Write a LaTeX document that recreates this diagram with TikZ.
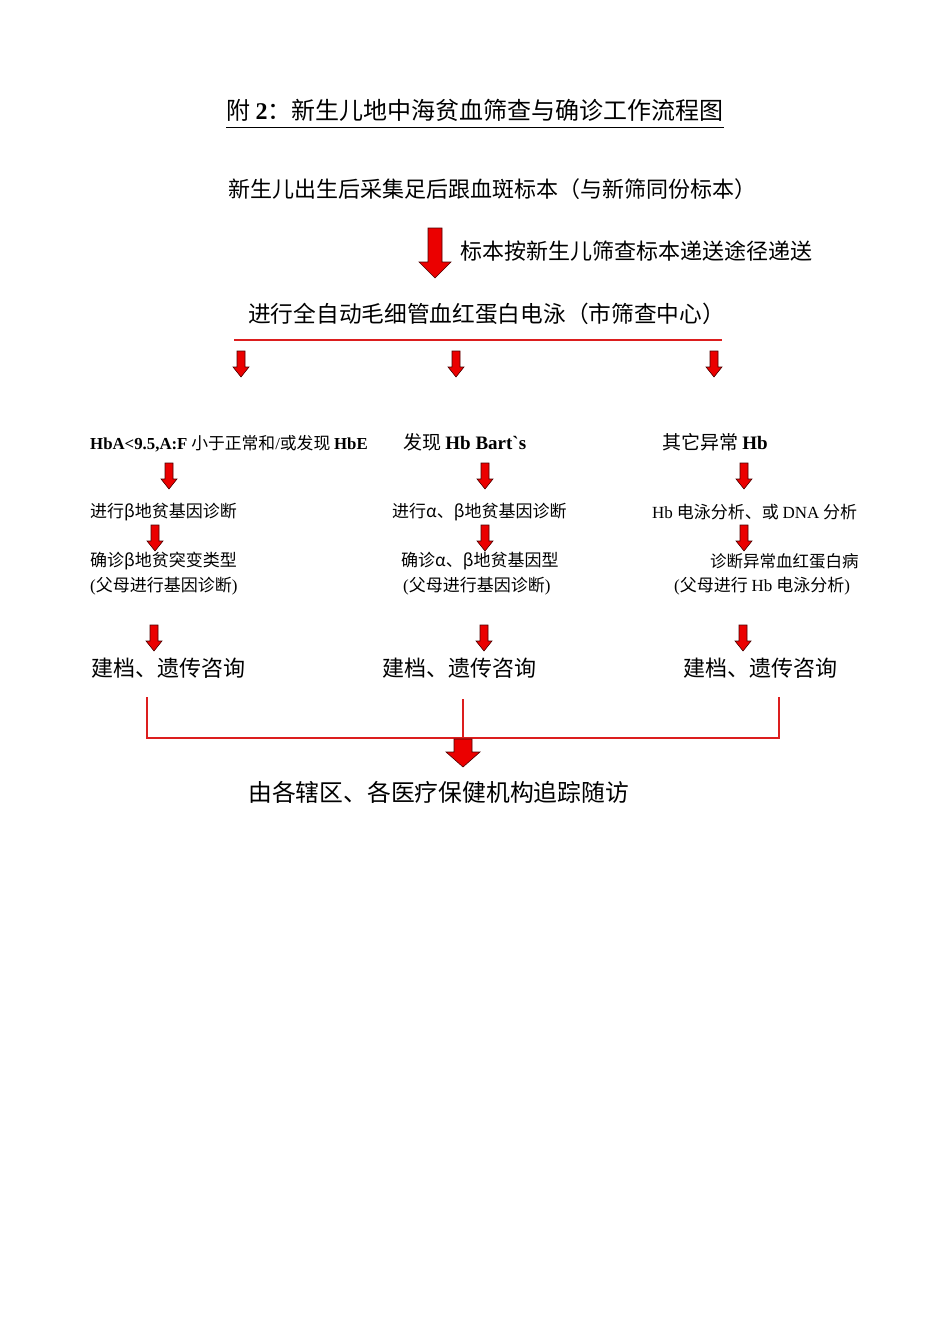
\documentclass[tikz,border=0pt]{standalone}
\usepackage{fontspec}
\setmainfont{Liberation Serif}
\newfontfamily\cjk{Noto Sans CJK SC}
\newcommand\fs[1]{\fontsize{#1}{#1}\selectfont}
\tikzset{
  big/.style={font=\cjk\fs{22}, inner sep=0pt, anchor=west},
  mid/.style={font=\cjk\fs{19}, inner sep=0pt, anchor=west},
  sml/.style={font=\cjk\fs{17}, inner sep=0pt, anchor=west},
  redline/.style={draw={rgb,255:red,220;green,30;blue,30}, line width=2pt},
}
\definecolor{arrred}{RGB}{235,0,0}
% block arrow: x, ytop, ybottom, shaft half width, head half width, head start
\newcommand\blockarr[6]{%
  \filldraw[fill=arrred, draw=black!70!red, line width=0.6pt]
   (#1-#4,#2) -- (#1+#4,#2) -- (#1+#4,#6) -- (#1+#5,#6) -- (#1,#3)
   -- (#1-#5,#6) -- (#1-#4,#6) -- cycle;}
\begin{document}
\begin{tikzpicture}[x=1pt,y=-1pt]
\useasboundingbox (0,0) rectangle (950,1344);
\node[big, font=\cjk\fs{24}] (title) at (226,110) {附 {\rmfamily\bfseries 2}：新生儿地中海贫血筛查与确诊工作流程图};
\draw[line width=0.8pt] (226,127) -- (724,127);
\node[big] (birth) at (228,189) {新生儿出生后采集足后跟血斑标本（与新筛同份标本）};
\blockarr{435}{228}{278}{7}{16}{262}
\node[big] (send) at (460,251) {标本按新生儿筛查标本递送途径递送};
\node[big, font=\cjk\fs{22.7}] (hpe) at (248,314) {进行全自动毛细管血红蛋白电泳（市筛查中心）};
\coordinate (sl) at (234,340); \coordinate (sr) at (722,340);
\draw[redline] (sl) -- (sr);
\blockarr{241}{351}{377}{4}{8}{367}
\blockarr{456}{351}{377}{4}{8}{367}
\blockarr{714}{351}{377}{4}{8}{367}
\node[sml, font=\cjk\fs{16.8}] (a1) at (90,444) {{\rmfamily\bfseries HbA<9.5,A:F} 小于正常和{\rmfamily/}或发现 {\rmfamily\bfseries HbE}};
\node[mid] (b1) at (403,442) {发现 {\rmfamily\bfseries Hb Bart\textasciigrave s}};
\node[mid] (c1) at (662,442) {其它异常 {\rmfamily\bfseries Hb}};
\blockarr{169}{463}{489}{4}{8}{479}
\blockarr{485}{463}{489}{4}{8}{479}
\blockarr{744}{463}{489}{4}{8}{479}
\node[sml] (a2) at (90,512) {进行β地贫基因诊断};
\node[sml] (b2) at (392,512) {进行α、β地贫基因诊断};
\node[sml] (c2) at (652,512) {{\rmfamily Hb} 电泳分析、或 {\rmfamily DNA} 分析};
\blockarr{155}{525}{551}{4}{8}{541}
\blockarr{485}{525}{551}{4}{8}{541}
\blockarr{744}{525}{551}{4}{8}{541}
\node[sml] (a3) at (90,561) {确诊β地贫突变类型};
\node[sml] (b3) at (401,561) {确诊α、β地贫基因型};
\node[sml, font=\cjk\fs{16.5}] (c3) at (710,561) {诊断异常血红蛋白病};
\node[sml] (a4) at (90,586) {{\rmfamily(}父母进行基因诊断{\rmfamily)}};
\node[sml] (b4) at (403,586) {{\rmfamily(}父母进行基因诊断{\rmfamily)}};
\node[sml] (c4) at (674,586) {{\rmfamily(}父母进行 {\rmfamily Hb} 电泳分析{\rmfamily)}};
\blockarr{154}{625}{651}{4}{8}{641}
\blockarr{484}{625}{651}{4}{8}{641}
\blockarr{743}{625}{651}{4}{8}{641}
\node[big] (a5) at (91,668) {建档、遗传咨询};
\node[big] (b5) at (382,668) {建档、遗传咨询};
\node[big] (c5) at (683,668) {建档、遗传咨询};
\coordinate (l1) at (147,697); \coordinate (l2) at (463,699); \coordinate (l3) at (779,697);
\coordinate (m1) at (147,738); \coordinate (m2) at (463,738); \coordinate (m3) at (779,738);
\draw[redline] (l1) -- (m1) -- (m3) -- (l3);
\draw[redline, line width=1.2pt] (l2) -- (m2);
\blockarr{463}{739}{767}{9}{17}{752}
\node[big, font=\cjk\fs{23.8}] (fin) at (248,792) {由各辖区、各医疗保健机构追踪随访};
\end{tikzpicture}
\end{document}
